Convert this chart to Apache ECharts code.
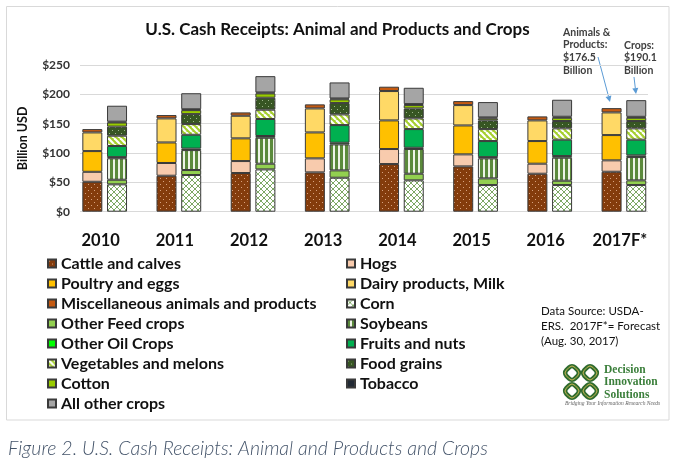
<!DOCTYPE html>
<html><head><meta charset="utf-8">
<script src="https://cdn.jsdelivr.net/npm/echarts@6/dist/echarts.min.js"></script>
<style>html,body{margin:0;padding:0;background:#fff}#c{width:675px;height:465px}</style>
</head><body><div id="c"></div>
<script>
const years = ['2010','2011','2012','2013','2014','2015','2016','2017F*'];
const yTicks = [0, 50, 100, 150, 200, 250];
// Animals & products (billion USD)
const cattle      = [51.0, 61.3, 65.9, 67.0, 81.2, 77.2, 64.7, 68.1];
const hogs        = [17.0, 21.7, 20.4, 23.9, 25.6, 20.5, 17.1, 19.4];
const poultry     = [35.3, 35.0, 38.7, 44.2, 48.8, 49.3, 38.6, 43.1];
const dairy       = [31.8, 41.0, 38.5, 40.9, 50.0, 34.7, 35.2, 38.6];
const miscAnimals = [5.7, 5.7, 5.7, 6.9, 7.4, 6.8, 6.8, 7.3];
// Crops (billion USD)
const corn        = [46.6, 62.5, 72.1, 57.9, 53.4, 45.4, 45.4, 45.4];
const otherFeed   = [7.9, 8.5, 9.7, 12.5, 11.3, 11.4, 7.4, 8.0];
const soybeans    = [36.5, 34.0, 44.2, 44.3, 42.1, 34.1, 39.2, 39.7];
const otherOil    = [2.0, 2.5, 3.0, 2.8, 2.2, 2.1, 2.8, 2.9];
const fruits      = [19.0, 23.6, 29.0, 30.1, 31.8, 27.4, 27.9, 26.7];
const vegetables  = [17.5, 18.2, 15.8, 18.2, 18.2, 20.4, 19.3, 19.3];
const foodGrains  = [15.5, 17.0, 20.4, 19.3, 17.0, 14.8, 12.5, 12.5];
const cotton      = [7.0, 6.8, 7.4, 6.3, 5.7, 3.4, 5.6, 5.6];
const tobacco     = [1.4, 1.5, 1.6, 1.6, 1.7, 1.7, 1.7, 1.6];
const allOther    = [27.2, 27.3, 27.8, 27.3, 27.8, 26.1, 29.0, 28.4];

function pat(w, h, draw) {
  const c = document.createElement('canvas'); c.width = w; c.height = h;
  const g = c.getContext('2d'); draw(g);
  return { image: c, repeat: 'repeat' };
}
const dots = (bg, dot) => pat(6, 6, g => { g.fillStyle = bg; g.fillRect(0,0,6,6); g.fillStyle = dot; g.fillRect(1,1,1,1); g.fillRect(4,4,1,1); });
const cattleFill = dots('#843C0C', '#D7A27E');
const grainFill = dots('#375623', '#9DB58A');
const cornFill = pat(6, 6, g => {
  g.fillStyle = '#FFFFFF'; g.fillRect(0,0,6,6);
  g.strokeStyle = '#7DA865'; g.lineWidth = 1;
  for (let k = -6; k <= 6; k += 6) {
    g.beginPath(); g.moveTo(k,0); g.lineTo(k+6,6); g.stroke();
    g.beginPath(); g.moveTo(k+6,0); g.lineTo(k,6); g.stroke();
  }
});
const soyFill = pat(5, 2, g => { g.fillStyle = '#EEF4E8'; g.fillRect(0,0,5,2); g.fillStyle = '#5B8A3C'; g.fillRect(0,0,3,2); });
const vegFill = pat(6, 6, g => {
  g.fillStyle = '#A5CF2E'; g.fillRect(0,0,6,6);
  g.strokeStyle = '#FFFFFF'; g.lineWidth = 2.2;
  for (let k = -12; k <= 12; k += 6) { g.beginPath(); g.moveTo(k,0); g.lineTo(k+6,6); g.stroke(); }
});

const defs = [
  ['Cattle and calves', 'animal', cattle, cattleFill],
  ['Hogs', 'animal', hogs, '#F8CBAD'],
  ['Poultry and eggs', 'animal', poultry, '#FFC000'],
  ['Dairy products, Milk', 'animal', dairy, '#FFD966'],
  ['Miscellaneous animals and products', 'animal', miscAnimals, '#C55A11'],
  ['Corn', 'crops', corn, cornFill],
  ['Other Feed crops', 'crops', otherFeed, '#92D050'],
  ['Soybeans', 'crops', soybeans, soyFill],
  ['Other Oil Crops', 'crops', otherOil, '#00FF00'],
  ['Fruits and nuts', 'crops', fruits, '#00B050'],
  ['Vegetables and melons', 'crops', vegetables, vegFill],
  ['Food grains', 'crops', foodGrains, grainFill],
  ['Cotton', 'crops', cotton, '#99CC00'],
  ['Tobacco', 'crops', tobacco, '#222A35'],
  ['All other crops', 'crops', allOther, '#A5A5A5']
];
const series = defs.map(d => ({
  name: d[0], type: 'bar', stack: d[1], data: d[2], xAxisIndex: 0, yAxisIndex: 0,
  barWidth: 20, barGap: '23.5%',
  itemStyle: { color: d[3], borderColor: '#3A3A3A', borderWidth: 1 }
}));
const leftNames = defs.filter((d,i) => i % 2 === 0).map(d => d[0]);
const rightNames = defs.filter((d,i) => i % 2 === 1).map(d => d[0]);
const legendText = { fontFamily: 'Lato', fontWeight: 'bold', fontSize: 16, color: '#111', lineHeight: 17 };
const FONT = 'Lato';

// logo knot (decorative)
const knotCentres = [[572,373],[590,373],[572,391],[590,391]];
const knot = [];
knotCentres.forEach(p => {
  knot.push({ type: 'rect', x: p[0], y: p[1], rotation: Math.PI / 4, shape: { x: -6, y: -6, width: 12, height: 12, r: 4 }, style: { fill: 'none', stroke: '#2E6B2E', lineWidth: 4.5 } });
});
knotCentres.forEach(p => {
  knot.push({ type: 'rect', x: p[0], y: p[1], rotation: Math.PI / 4, shape: { x: -6, y: -6, width: 12, height: 12, r: 4 }, style: { fill: 'none', stroke: '#E8C65A', lineWidth: 0.8 } });
});

function arrow(x1, y1, x2, y2) {
  const a = Math.atan2(y2 - y1, x2 - x1), L = 6, W = 3;
  const bx = x2 - L * Math.cos(a), by = y2 - L * Math.sin(a);
  return [
    { type: 'line', shape: { x1, y1, x2: bx, y2: by }, style: { stroke: '#5B9BD5', lineWidth: 1 } },
    { type: 'polygon', shape: { points: [[x2, y2], [bx - W * Math.sin(a), by + W * Math.cos(a)], [bx + W * Math.sin(a), by - W * Math.cos(a)]] }, style: { fill: '#5B9BD5' } }
  ];
}
const annoStyle = { fontFamily: FONT, fontWeight: 'bold', fontSize: 10.5, fill: '#404040' };

const chart = echarts.init(document.getElementById('c'), null, { renderer: 'canvas' });
chart.setOption({
  animation: false,
  title: { text: 'U.S. Cash Receipts: Animal and Products and Crops', left: 'center', top: 16,
    textStyle: { fontFamily: FONT, fontWeight: 'bold', fontSize: 17, color: '#111' } },
  grid: [
    { left: 67.6, width: 593.4, top: 65, height: 146.7 },
    { left: 80, width: 568, top: 65, height: 146.7 }
  ],
  xAxis: [
    { type: 'category', gridIndex: 0, data: years, axisLine: { show: false }, axisTick: { show: false },
      axisLabel: { interval: 0, margin: 20, padding: [0, 8, 0, 0], fontFamily: FONT, fontWeight: 'bold', fontSize: 16.5, color: '#111' } },
    { type: 'value', gridIndex: 1, show: false, min: 0, max: 1 }
  ],
  yAxis: [
    { type: 'value', gridIndex: 0, min: 0, max: 250, show: false },
    { type: 'value', gridIndex: 1, min: yTicks[0], max: yTicks[yTicks.length - 1], interval: 50,
      name: 'Billion USD', nameLocation: 'middle', nameRotate: 90, nameGap: 51,
      nameTextStyle: { fontFamily: FONT, fontWeight: 'bold', fontSize: 12.5, color: '#111' },
      axisLine: { show: false }, axisTick: { show: false },
      axisLabel: { margin: 10, formatter: v => '$' + v, fontFamily: FONT, fontWeight: 'bold', fontSize: 12, color: '#333' },
      splitLine: { lineStyle: { color: '#D9D9D9', width: 1 } } }
  ],
  legend: [
    { data: leftNames, orient: 'vertical', left: 42, top: 250, itemWidth: 8, itemHeight: 8, itemGap: 3,
      icon: 'rect', textStyle: legendText, selectedMode: false },
    { data: rightNames, orient: 'vertical', left: 341, top: 250, itemWidth: 8, itemHeight: 8, itemGap: 3,
      icon: 'rect', textStyle: legendText, selectedMode: false }
  ],
  series: series,
  graphic: [
    { type: 'rect', shape: { x: 6.5, y: 6.5, width: 662.5, height: 413.5 }, style: { fill: 'none', stroke: '#D9D9D9', lineWidth: 1 }, silent: true },
    { type: 'text', x: 563, y: 26, style: Object.assign({ text: 'Animals &\nProducts:\n$176.5\nBillion', lineHeight: 12.7 }, annoStyle) },
    { type: 'text', x: 624, y: 39, style: Object.assign({ text: 'Crops:\n$190.1\nBillion', lineHeight: 12.7 }, annoStyle) },
    ...arrow(598, 57, 610, 102),
    ...arrow(634, 77, 636, 94),
    { type: 'text', x: 541, y: 304, style: { text: 'Data Source: USDA-\nERS.  2017F*= Forecast\n(Aug. 30, 2017)', fontFamily: FONT, fontSize: 11.5, lineHeight: 15, fill: '#111' } },
    ...knot,
    { type: 'text', x: 604, y: 364, style: { text: 'Decision\nInnovation\nSolutions', fontFamily: 'Liberation Serif', fontWeight: 'bold', fontSize: 11.5, lineHeight: 12.3, fill: '#3B7F3B' } },
    { type: 'text', x: 565, y: 401, style: { text: 'Bridging Your Information Research Needs', fontFamily: 'Liberation Serif', fontStyle: 'italic', fontSize: 5.5, fill: '#666' } },
    { type: 'text', x: 8, y: 439, style: { text: 'Figure 2. U.S. Cash Receipts: Animal and Products and Crops', fontFamily: FONT, fontStyle: 'italic', fontWeight: 300, fontSize: 19.5, fill: '#44546A' } }
  ]
});
</script></body></html>
